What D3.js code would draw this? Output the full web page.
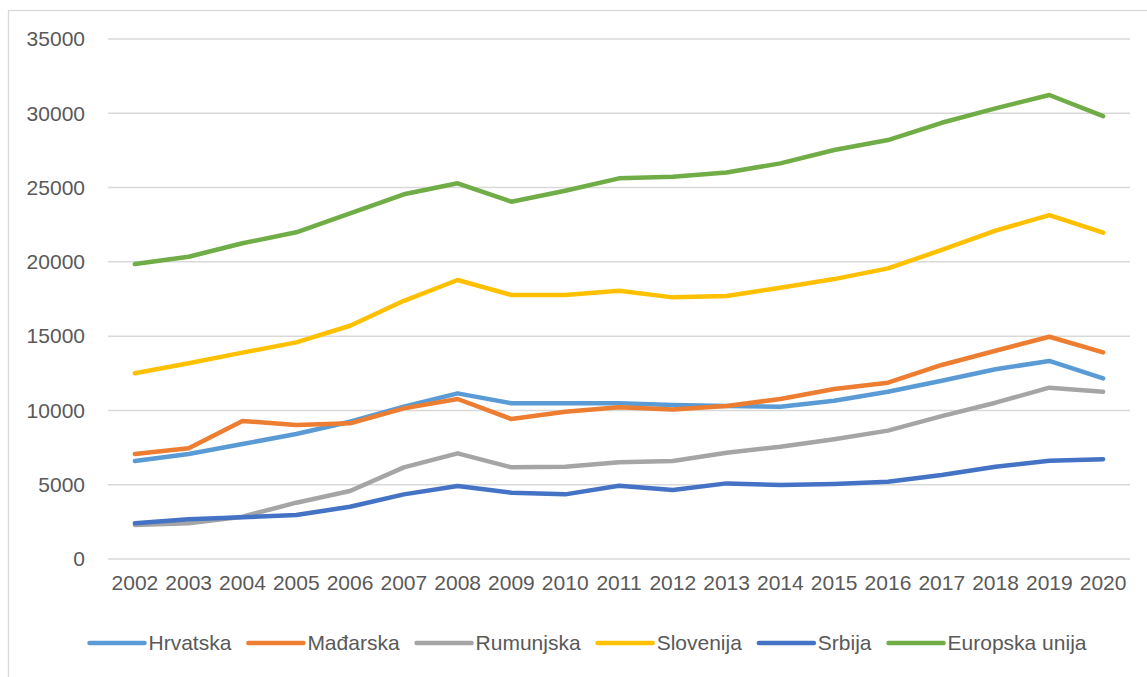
<!DOCTYPE html>
<html>
<head>
<meta charset="utf-8">
<script src="https://cdn.jsdelivr.net/npm/d3@7"></script>
<style>
  body { margin: 0; background: #fff; }
  svg { display: block; }
</style>
</head>
<body>
<div id="vis"></div>
<script>
var width  = 1147;
var height = 677;

var years = ["2002","2003","2004","2005","2006","2007","2008","2009","2010","2011",
             "2012","2013","2014","2015","2016","2017","2018","2019","2020"];
var yTicks = [0, 5000, 10000, 15000, 20000, 25000, 30000, 35000];

var names  = ["Hrvatska", "Mađarska", "Rumunjska", "Slovenija", "Srbija", "Europska unija"];
var colors = ["#5B9BD5", "#ED7D31", "#A5A5A5", "#FFC000", "#4472C4", "#70AD47"];

var hrvatska  = [6600, 7070, 7740, 8410, 9240, 10250, 11150, 10480, 10480, 10480,
                 10360, 10300, 10250, 10650, 11260, 12000, 12770, 13330, 12160];
var madarska  = [7070, 7450, 9290, 9020, 9130, 10140, 10770, 9420, 9910, 10210,
                 10070, 10300, 10770, 11440, 11870, 13060, 14020, 14960, 13910];
var rumunjska = [2290, 2400, 2850, 3790, 4580, 6170, 7110, 6170, 6210, 6510,
                 6600, 7150, 7560, 8060, 8640, 9620, 10520, 11530, 11260];
var slovenija = [12500, 13170, 13890, 14580, 15700, 17380, 18780, 17770, 17770, 18060,
                 17610, 17700, 18260, 18840, 19560, 20800, 22100, 23150, 21960];
var srbija    = [2400, 2670, 2810, 2960, 3520, 4350, 4910, 4460, 4350, 4930,
                 4640, 5090, 4980, 5050, 5200, 5650, 6210, 6620, 6710];
var eu        = [19850, 20340, 21250, 21990, 23270, 24550, 25290, 24050, 24790, 25620,
                 25730, 26020, 26630, 27530, 28200, 29360, 30330, 31230, 29810];

var series = [hrvatska, madarska, rumunjska, slovenija, srbija, eu];

var margin = { left: 108, right: 17, top: 39, bottom: 118 };
var font = "'Liberation Sans', Arial, sans-serif";
var textColor = "#595959";

var x = d3.scaleBand().domain(years).range([margin.left, width - margin.right]);
var y = d3.scaleLinear().domain([0, 35000]).range([height - margin.bottom, margin.top]);

var svg = d3.select("#vis").append("svg")
  .attr("width", width)
  .attr("height", height);

// chart border
svg.append("rect")
  .attr("x", 8.5).attr("y", 10.5)
  .attr("width", width + 20).attr("height", height + 20)
  .attr("fill", "none")
  .attr("stroke", "#d9d9d9")
  .attr("stroke-width", 1.3);

// gridlines
svg.append("g").selectAll("line")
  .data(yTicks)
  .enter().append("line")
  .attr("x1", margin.left).attr("x2", width - margin.right)
  .attr("y1", function(d) { return y(d); })
  .attr("y2", function(d) { return y(d); })
  .attr("stroke", "#d9d9d9")
  .attr("stroke-width", 1.5);

// y axis
var yAxis = svg.append("g")
  .attr("transform", "translate(" + (margin.left - 23) + ",0)")
  .call(d3.axisLeft(y).tickValues(yTicks).tickSize(0).tickPadding(0).tickFormat(d3.format("d")));
yAxis.select(".domain").remove();
yAxis.selectAll("text")
  .attr("font-family", font).attr("font-size", 21).attr("fill", textColor);

// x axis
var xAxis = svg.append("g")
  .attr("transform", "translate(0," + (height - margin.bottom) + ")")
  .call(d3.axisBottom(x).tickSize(0).tickPadding(16));
xAxis.select(".domain").remove();
xAxis.selectAll("text")
  .attr("font-family", font).attr("font-size", 21).attr("fill", textColor);

// lines
var line = d3.line()
  .x(function(d, i) { return x(years[i]) + x.bandwidth() / 2; })
  .y(function(d) { return y(d); });

svg.append("g").selectAll("path")
  .data(series)
  .enter().append("path")
  .attr("d", line)
  .attr("fill", "none")
  .attr("stroke", function(d, i) { return colors[i]; })
  .attr("stroke-width", 4.5)
  .attr("stroke-linejoin", "round")
  .attr("stroke-linecap", "round");

// legend
var legend = svg.append("g");
var items = legend.selectAll("g")
  .data(names)
  .enter().append("g");

items.append("line")
  .attr("x1", 0).attr("x2", 55)
  .attr("y1", 0).attr("y2", 0)
  .attr("stroke", function(d, i) { return colors[i]; })
  .attr("stroke-width", 4.5)
  .attr("stroke-linecap", "round");

items.append("text")
  .attr("x", 59)
  .attr("dy", "0.35em")
  .attr("font-family", font).attr("font-size", 21).attr("fill", textColor)
  .text(function(d) { return d; });

var pos = 0;
items.each(function() {
  var g = d3.select(this);
  var w = 59 + g.select("text").node().getComputedTextLength();
  g.attr("data-x", pos);
  pos += w + 17;
});
var total = pos - 17;
var legendStart = 588 - total / 2;
items.attr("transform", function() {
  return "translate(" + (legendStart + (+this.getAttribute("data-x"))) + ",643)";
});
</script>
</body>
</html>
